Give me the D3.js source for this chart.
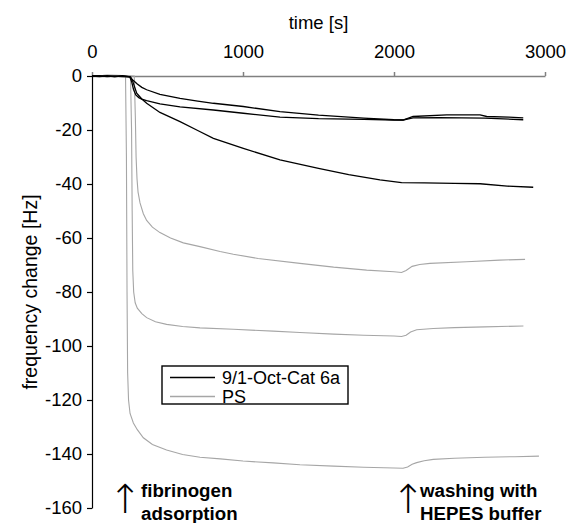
<!DOCTYPE html>
<html>
<head>
<meta charset="utf-8">
<script src="https://cdn.jsdelivr.net/npm/d3@7"></script>
<style>
    body { margin: 0; background: #fff; }
    svg { display: block; font-family: Arial, 'Liberation Sans', sans-serif; }
</style>
</head>
<body>
<div id="chart"></div>
<script>
// time [s] / frequency change [Hz] readings, three runs per surface
const xTicks = [0, 1000, 2000, 3000];
const yTicks = [0, -20, -40, -60, -80, -100, -120, -140, -160];

const octCat1T = [0, 50, 100, 150, 200, 250, 270, 300, 330, 362, 450, 583, 700, 804, 1002, 1245, 1500, 1800, 2000, 2060, 2126, 2349, 2570, 2614, 2760, 2856];
const octCat1V = [0, -0.2, 0.1, -0.2, 0, -0.3, -1.5, -3, -4.2, -5.1, -6.8, -8.3, -9.3, -10.1, -11.3, -13.2, -14.5, -15.6, -16.2, -16.3, -15, -14.4, -14.4, -15, -15.2, -15.5];

const octCat2T = [0, 50, 100, 150, 200, 250, 262, 275, 290, 310, 329, 362, 450, 583, 804, 1002, 1245, 1500, 1800, 2000, 2060, 2126, 2300, 2600, 2856];
const octCat2V = [0, 0.1, -0.2, 0, -0.2, -0.3, -2, -5, -7, -8, -8.6, -9.1, -10.3, -11.4, -12.6, -13.8, -15.2, -15.8, -16.1, -16.3, -16.3, -15.5, -15.4, -15.6, -16.2];

const octCat3T = [0, 50, 100, 150, 200, 255, 270, 296, 330, 362, 450, 583, 700, 804, 1002, 1245, 1500, 1700, 1907, 2050, 2200, 2400, 2570, 2750, 2922];
const octCat3V = [0, -0.1, 0, -0.2, 0.1, -0.3, -2, -6.4, -8.5, -10.1, -13.5, -16.9, -20.2, -23.1, -26.8, -31.1, -34.2, -36.5, -38.5, -39.5, -39.6, -39.8, -39.9, -40.8, -41.2];

const ps1T = [0, 100, 200, 222, 228, 232, 236, 242, 252, 274, 300, 340, 400, 494, 600, 715, 850, 1000, 1200, 1377, 1600, 1800, 2000, 2060, 2090, 2120, 2150, 2200, 2260, 2400, 2600, 2800, 2960];
const ps1V = [0, 0.3, 0.2, 0, -30, -80, -110, -120, -125, -128.5, -131, -134, -136.5, -138.5, -140.2, -141.2, -141.8, -142.6, -143.3, -144, -144.5, -144.9, -145.2, -145.3, -144.8, -143.8, -143.2, -142.5, -142, -141.6, -141.2, -141, -140.8];

const ps2T = [0, 100, 200, 255, 262, 266, 270, 276, 286, 300, 330, 362, 420, 494, 600, 715, 936, 1200, 1377, 1600, 1800, 2000, 2050, 2080, 2110, 2150, 2260, 2400, 2600, 2857];
const ps2V = [0, 0.3, 0.2, 0, -20, -50, -72, -80, -84, -86, -88, -89.5, -91, -92, -92.8, -93.3, -93.8, -94.5, -95, -95.6, -96, -96.3, -96.5, -96, -94.8, -94, -93.5, -93.2, -92.9, -92.6];

const ps3T = [0, 100, 200, 280, 287, 292, 298, 305, 318, 340, 362, 400, 450, 520, 605, 715, 848, 936, 1100, 1377, 1600, 1819, 2000, 2050, 2080, 2120, 2170, 2238, 2481, 2700, 2868];
const ps3V = [0, 0.3, 0.2, 0, -15, -30, -38, -43, -47, -51, -53.5, -56, -58, -60, -61.8, -63.2, -65, -66, -67.6, -69.4, -70.8, -71.9, -72.5, -72.8, -72, -70.5, -69.8, -69.4, -68.8, -68.2, -67.9];

const seriesNames = ['9/1-Oct-Cat 6a', 'PS'];
const seriesColors = ['#000000', '#a6a6a6'];

const runs = [
    { name: seriesNames[1], t: ps1T, v: ps1V },
    { name: seriesNames[1], t: ps2T, v: ps2V },
    { name: seriesNames[1], t: ps3T, v: ps3V },
    { name: seriesNames[0], t: octCat1T, v: octCat1V },
    { name: seriesNames[0], t: octCat2T, v: octCat2V },
    { name: seriesNames[0], t: octCat3T, v: octCat3V }
];

const W = 568, H = 523;
const fontSize = 18.5;

const svg = d3.select('#chart').append('svg')
    .attr('width', W)
    .attr('height', H);

const x = d3.scaleLinear().domain([0, 3000]).range([92, 545]);
const y = d3.scaleLinear().domain([0, -160]).range([76, 508]);
const color = d3.scaleOrdinal().domain(seriesNames).range(seriesColors);

// Top axis sits on y = 0
const xAxis = svg.append('g')
    .attr('transform', `translate(0,${y(0)})`)
    .call(d3.axisTop(x).tickValues(xTicks).tickSize(4).tickPadding(14).tickSizeOuter(0)
        .tickFormat(d => String(d)));
xAxis.select('.domain').attr('stroke', '#808080').attr('stroke-width', 1.5);
xAxis.selectAll('.tick line').attr('stroke', '#808080').attr('stroke-width', 1.5);
xAxis.selectAll('.tick text').attr('font-size', fontSize).attr('fill', '#000').attr('font-family', null);

const yAxis = svg.append('g')
    .attr('transform', `translate(${x(0)},0)`)
    .call(d3.axisLeft(y).tickValues(yTicks).tickSize(5).tickPadding(5).tickSizeOuter(0)
        .tickFormat(d => String(d)));
yAxis.select('.domain').attr('stroke', '#000').attr('stroke-width', 1.2);
yAxis.selectAll('.tick line').attr('stroke', '#000').attr('stroke-width', 1.2);
yAxis.selectAll('.tick text').attr('font-size', fontSize).attr('fill', '#000').attr('font-family', null);

// Axis titles
svg.append('text')
    .attr('x', (x(0) + x(3000)) / 2)
    .attr('y', 29)
    .attr('text-anchor', 'middle')
    .attr('font-size', fontSize)
    .text('time [s]');

svg.append('text')
    .attr('transform', `translate(37,${(y(0) + y(-160)) / 2}) rotate(-90)`)
    .attr('text-anchor', 'middle')
    .attr('font-size', 19.5)
    .text('frequency change [Hz]');

// Curves
const line = d3.line()
    .x(d => x(d[0]))
    .y(d => y(d[1]));

svg.append('g')
    .selectAll('path')
    .data(runs)
    .join('path')
    .attr('fill', 'none')
    .attr('stroke', d => color(d.name))
    .attr('stroke-width', d => d.name === seriesNames[0] ? 1.3 : 1.1)
    .attr('d', d => line(d.t.map((t, i) => [t, d.v[i]])));

// Legend
const legend = svg.append('g').attr('transform', 'translate(162,366)');
legend.append('rect')
    .attr('width', 186)
    .attr('height', 38)
    .attr('fill', '#fff')
    .attr('stroke', '#000')
    .attr('stroke-width', 1.4);

seriesNames.forEach((name, i) => {
    const ly = 11.5 + i * 19;
    legend.append('line')
        .attr('x1', 8).attr('x2', 53)
        .attr('y1', ly).attr('y2', ly)
        .attr('stroke', color(name))
        .attr('stroke-width', 1.3);
    legend.append('text')
        .attr('x', 60)
        .attr('y', ly + 6.3)
        .attr('font-size', 18)
        .text(name);
});

// Annotations
const notes = [
    { lines: ['fibrinogen', 'adsorption'], ax: 125, tx: 141 },
    { lines: ['washing with', 'HEPES buffer'], ax: 408, tx: 420 }
];

notes.forEach(n => {
    svg.append('text')
        .attr('x', n.ax)
        .attr('y', 513)
        .attr('text-anchor', 'middle')
        .attr('font-size', 40)
        .attr('font-family', "'DejaVu Sans', sans-serif")
        .attr('font-weight', 200)
        .text('↑');
    n.lines.forEach((l, i) => {
        svg.append('text')
            .attr('x', n.tx)
            .attr('y', 497 + i * 23)
            .attr('font-size', 18.7)
            .attr('font-weight', 'bold')
            .text(l);
    });
});
</script>
</body>
</html>
